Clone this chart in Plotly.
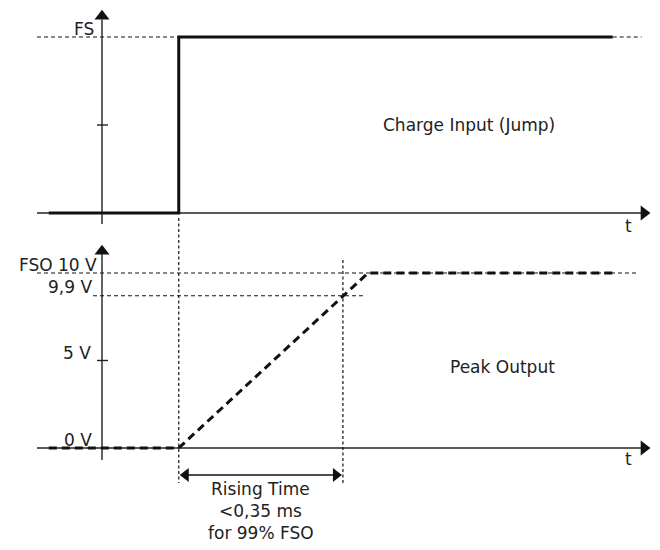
import plotly.graph_objects as go

# ---- data (diagram units) ----
# time axis: 0 at y-axis, step at t_step, ramp complete at t_ramp_end
t_axis_start = -0.855
t_signal_start = -0.70
t_step = 1.01
t_99 = 3.17
t_ramp_end = 3.5
t_signal_end = 6.72
t_dash_end = 7.10
t_axis_tip = 7.21

# top panel (charge input), normalised to FS = 1
fs_level = 1.0
top_tick_vals = [0.5, 1.0]
top_tick_labels = ["", "FS"]

# bottom panel (peak output), volts (9,9 V drawn spread out for readability)
out_tick_vals = [0, 5, 8.7, 10]
out_tick_labels = ["0 V", "5 V", "9,9 V", "FSO 10 V"]
fso_level = 10
level_99 = 8.7

input_t = [t_signal_start, t_step, t_step, t_signal_end]
input_y = [0, 0, fs_level, fs_level]
output_t = [t_signal_start, t_step, t_ramp_end, t_signal_end]
output_y = [0, 0, fso_level, fso_level]

PX = 76.0  # pixels per time unit (for small offsets)
FONT = "DejaVu Sans"
FS = 17
INK = "#111111"
AX = "#222222"
OFF = 8  # page body margin

fig = go.Figure()

def line(x, y, yaxis, width=1.4, dash=None, color=AX):
    fig.add_trace(go.Scatter(x=x, y=y, yaxis=yaxis, mode="lines",
                             line=dict(color=color, width=width, dash=dash),
                             hoverinfo="skip", showlegend=False))

def marker(x, y, yaxis, symbol, size=13):
    fig.add_trace(go.Scatter(x=[x], y=[y], yaxis=yaxis, mode="markers",
                             marker=dict(symbol=symbol, size=size, color=INK,
                                         line=dict(width=0)),
                             hoverinfo="skip", showlegend=False))

# ---------- top panel (yaxis 'y') ----------
top_unit = 176.0  # px per FS
line([t_axis_start, t_axis_tip - 7 / PX], [0, 0], "y")
marker(t_axis_tip - 6 / PX, 0, "y", "triangle-right")
line([0, 0], [-11 / top_unit, fs_level + 0.10], "y")
marker(0, fs_level + 0.118, "y", "triangle-up")
for v in top_tick_vals[:1]:
    line([-5 / PX, 6 / PX], [v, v], "y")
line([t_axis_start, t_step], [fs_level, fs_level], "y", width=1, dash="4px,3px", color=INK)
line([t_signal_end, t_dash_end], [fs_level, fs_level], "y", width=1, dash="4px,3px", color=INK)
line(input_t, input_y, "y", width=3, color=INK)

# ---------- bottom panel (yaxis 'y2') ----------
bot_unit = 17.5  # px per volt
line([t_axis_start, t_axis_tip - 7 / PX], [0, 0], "y2")
marker(t_axis_tip - 6 / PX, 0, "y2", "triangle-right")
line([0, 0], [-12 / bot_unit, 11.1], "y2")
marker(0, 11.25, "y2", "triangle-up")
line([-5 / PX, 6 / PX], [5, 5], "y2")
line([t_axis_start, t_dash_end - 5 / PX], [fso_level, fso_level], "y2", width=1, dash="4px,3px", color=INK)
line([-9 / PX, t_99 + 20 / PX], [level_99, level_99], "y2", width=1, dash="4px,3px", color=INK)
# vertical guides
line([t_step, t_step], [(448 - 218) / bot_unit, -2.0], "y2", width=1.2, dash="3px,2.5px", color=INK)
line([t_99, t_99], [(448 - 260) / bot_unit, -2.0], "y2", width=1.2, dash="3px,2.5px", color=INK)
# output signal
line(output_t, output_y, "y2", width=3, dash="8px,5px", color=INK)
# rising time arrow
y_arrow = -1.54
line([t_step + 6 / PX, t_99 - 6 / PX], [y_arrow, y_arrow], "y2", width=1.5, color=INK)
marker(t_step + 7 / PX, y_arrow, "y2", "triangle-left", 12)
marker(t_99 - 7 / PX, y_arrow, "y2", "triangle-right", 12)

# ---------- text ----------
def txt(text, x, y, yref, xanchor="center", yanchor="middle", size=FS, xref="x"):
    fig.add_annotation(text=text, x=x, y=y, xref=xref, yref=yref, showarrow=False,
                       xanchor=xanchor, yanchor=yanchor,
                       font=dict(family=FONT, size=size, color="#222222"))

txt(top_tick_labels[1], -6 / PX, fs_level + 8 / top_unit, "y", xanchor="right", size=17)
txt("t", (628 - 102) / PX, -13 / top_unit, "y", size=17)
txt("Charge Input (Jump)", (469 - 102) / PX, (213 - 125) / top_unit, "y")

label_shift = {"0 V": (-8, 8), "5 V": (-9, 8), "9,9 V": (-8, 9), "FSO 10 V": (-3, 8)}
for v, lab in zip(out_tick_vals, out_tick_labels):
    dx, dy = label_shift[lab]
    txt(lab, dx / PX, v + dy / bot_unit, "y2", xanchor="right", size=17)
txt("t", (628 - 102) / PX, -11 / bot_unit, "y2", size=17)
txt("Peak Output", (502 - 102) / PX, (448 - 367) / bot_unit, "y2")

mid = (t_step + t_99) / 2
for i, s in enumerate(["Rising Time", "&lt;0,35 ms", "for 99% FSO"]):
    txt(s, mid, (448 - 489 - 22 * i) / bot_unit, "y2")

fig.update_layout(
    width=660 - OFF, height=550 - OFF,
    margin=dict(l=0, r=0, t=0, b=0),
    paper_bgcolor="white", plot_bgcolor="white",
    xaxis=dict(range=[(OFF - 102) / PX, (660 - 102) / PX], visible=False, fixedrange=True),
    yaxis=dict(range=[(213 - 550) / top_unit, (213 - OFF) / top_unit], visible=False, domain=[0, 1]),
    yaxis2=dict(range=[(448 - 550) / bot_unit, (448 - OFF) / bot_unit], visible=False,
                overlaying="y", domain=[0, 1]),
    showlegend=False,
)

fig.write_html("out.html")
